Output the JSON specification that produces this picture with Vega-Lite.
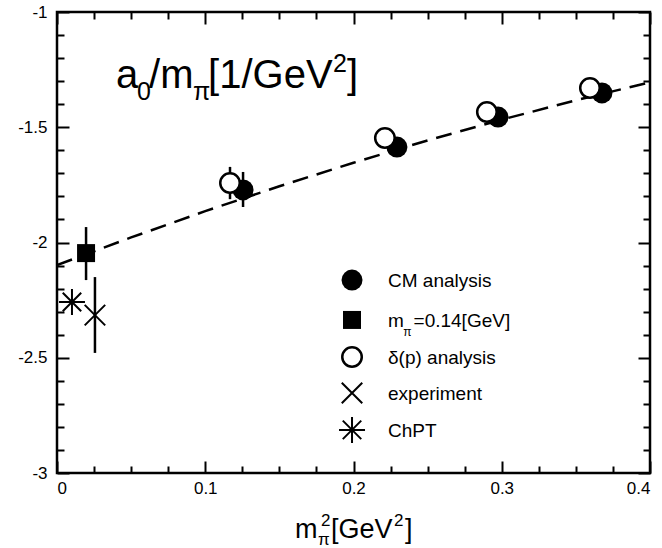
{
  "$schema": "https://vega.github.io/schema/vega-lite/v6.json",
  "width": 593,
  "height": 461,
  "autosize": {"type": "none"},
  "padding": {"left": 57, "top": 12, "right": 12, "bottom": 75},
  "config": {
    "view": {"stroke": "black", "strokeWidth": 2.5},
    "axis": {"domain": false, "grid": false, "tickColor": "black", "tickWidth": 2, "labelFont": "Liberation Sans", "labelFontSize": 17, "labelColor": "black", "title": null},
    "text": {"font": "Liberation Sans", "color": "black"}
  },
  "datasets": {
    "fit": [
      {"x": 0.0, "y": -2.098}, {"x": 0.05, "y": -1.978}, {"x": 0.1, "y": -1.864},
      {"x": 0.15, "y": -1.756}, {"x": 0.2, "y": -1.654}, {"x": 0.25, "y": -1.557},
      {"x": 0.3, "y": -1.467}, {"x": 0.35, "y": -1.383}, {"x": 0.4, "y": -1.305}
    ],
    "pts": [
      {"series": "CM", "x": 0.1255, "y": -1.772, "lo": -1.846, "hi": -1.694},
      {"series": "CM", "x": 0.2293, "y": -1.586},
      {"series": "CM", "x": 0.2975, "y": -1.456},
      {"series": "CM", "x": 0.3676, "y": -1.351},
      {"series": "delta", "x": 0.1167, "y": -1.742, "lo": -1.812, "hi": -1.672},
      {"series": "delta", "x": 0.2212, "y": -1.547},
      {"series": "delta", "x": 0.29, "y": -1.434},
      {"series": "delta", "x": 0.3595, "y": -1.33},
      {"series": "mpi", "x": 0.0196, "y": -2.046, "lo": -2.163, "hi": -1.933},
      {"series": "exp", "x": 0.0256, "y": -2.315, "lo": -2.479, "hi": -2.15},
      {"series": "chpt", "x": 0.0101, "y": -2.258},
      {"series": "CM", "x": 0.199, "y": -2.163},
      {"series": "mpi", "x": 0.199, "y": -2.336},
      {"series": "delta", "x": 0.199, "y": -2.497},
      {"series": "exp", "x": 0.199, "y": -2.653},
      {"series": "chpt", "x": 0.199, "y": -2.813}
    ],
    "texts": [
      {"role": "title", "text": "a", "x": 0.0398, "y": -1.33},
      {"role": "titlesub", "text": "0", "x": 0.054, "y": -1.382},
      {"role": "title", "text": "/m", "x": 0.0621, "y": -1.33},
      {"role": "titlesub", "text": "π", "x": 0.0917, "y": -1.382},
      {"role": "title", "text": "[1/GeV", "x": 0.1019, "y": -1.33},
      {"role": "titlesub", "text": "2", "x": 0.1862, "y": -1.26},
      {"role": "title", "text": "]", "x": 0.1956, "y": -1.33},
      {"role": "leg", "text": "CM analysis", "x": 0.2233, "y": -2.193},
      {"role": "leg", "text": "m", "x": 0.2233, "y": -2.367},
      {"role": "legsub", "text": "π", "x": 0.2335, "y": -2.406},
      {"role": "leg", "text": "=0.14[GeV]", "x": 0.2405, "y": -2.367},
      {"role": "leg", "text": "δ(p) analysis", "x": 0.2233, "y": -2.527},
      {"role": "leg", "text": "experiment", "x": 0.2233, "y": -2.683},
      {"role": "leg", "text": "ChPT", "x": 0.2233, "y": -2.844},
      {"role": "xt", "text": "m", "x": 0.1606, "y": -3.282},
      {"role": "xtsub", "text": "π", "x": 0.176, "y": -3.314},
      {"role": "xtsub", "text": "2", "x": 0.1781, "y": -3.228},
      {"role": "xt", "text": "[GeV", "x": 0.1848, "y": -3.282},
      {"role": "xtsub", "text": "2", "x": 0.2273, "y": -3.228},
      {"role": "xt", "text": "]", "x": 0.2347, "y": -3.282}
    ]
  },
  "resolve": {"axis": {"x": "independent", "y": "independent"}},
  "layer": [
    {
      "data": {"name": "fit"},
      "mark": {"type": "line", "color": "black", "strokeWidth": 2.5, "strokeDash": [16, 9], "clip": true},
      "encoding": {
        "x": {"field": "x", "type": "quantitative", "scale": {"domain": [0, 0.4], "nice": false, "zero": false},
              "axis": {"orient": "bottom", "values": [0, 0.1, 0.2, 0.3, 0.4], "tickSize": -12, "labelPadding": 19, "labelExpr": "'' + datum.value"}},
        "y": {"field": "y", "type": "quantitative", "scale": {"domain": [-3, -1], "nice": false, "zero": false},
              "axis": {"orient": "left", "values": [-3, -2.5, -2, -1.5, -1], "tickSize": -12, "labelPadding": 22, "labelExpr": "'' + datum.value"}}
      }
    },
    {
      "data": {"name": "pts"},
      "transform": [{"filter": "isValid(datum.lo)"}],
      "mark": {"type": "rule", "color": "black", "strokeWidth": 2.5},
      "encoding": {
        "x": {"field": "x", "type": "quantitative", "scale": {"domain": [0, 0.4], "nice": false, "zero": false},
              "axis": {"orient": "top", "values": [0, 0.1, 0.2, 0.3, 0.4], "tickSize": -12, "labels": false}},
        "y": {"field": "lo", "type": "quantitative", "scale": {"domain": [-3, -1], "nice": false, "zero": false},
              "axis": {"orient": "right", "values": [-3, -2.5, -2, -1.5, -1], "tickSize": -12, "labels": false}},
        "y2": {"field": "hi"}
      }
    },
    {
      "data": {"name": "pts"},
      "transform": [{"filter": "datum.series == 'CM'"}],
      "mark": {"type": "point", "shape": "circle", "filled": true, "color": "black", "opacity": 1, "size": 440},
      "encoding": {
        "x": {"field": "x", "type": "quantitative", "scale": {"domain": [0, 0.4], "nice": false, "zero": false},
              "axis": {"orient": "bottom", "values": [0.025, 0.05, 0.075, 0.125, 0.15, 0.175, 0.225, 0.25, 0.275, 0.325, 0.35, 0.375], "tickSize": -7, "labels": false}},
        "y": {"field": "y", "type": "quantitative", "scale": {"domain": [-3, -1], "nice": false, "zero": false},
              "axis": {"orient": "left", "values": [-2.9, -2.8, -2.7, -2.6, -2.4, -2.3, -2.2, -2.1, -1.9, -1.8, -1.7, -1.6, -1.4, -1.3, -1.2, -1.1], "tickSize": -7, "labels": false}}
      }
    },
    {
      "data": {"name": "pts"},
      "transform": [{"filter": "datum.series == 'delta'"}],
      "mark": {"type": "point", "shape": "circle", "fill": "white", "stroke": "black", "strokeWidth": 2.5, "opacity": 1, "fillOpacity": 1, "size": 380},
      "encoding": {
        "x": {"field": "x", "type": "quantitative", "scale": {"domain": [0, 0.4], "nice": false, "zero": false},
              "axis": {"orient": "top", "values": [0.025, 0.05, 0.075, 0.125, 0.15, 0.175, 0.225, 0.25, 0.275, 0.325, 0.35, 0.375], "tickSize": -7, "labels": false}},
        "y": {"field": "y", "type": "quantitative", "scale": {"domain": [-3, -1], "nice": false, "zero": false},
              "axis": {"orient": "right", "values": [-2.9, -2.8, -2.7, -2.6, -2.4, -2.3, -2.2, -2.1, -1.9, -1.8, -1.7, -1.6, -1.4, -1.3, -1.2, -1.1], "tickSize": -7, "labels": false}}
      }
    },
    {
      "data": {"name": "pts"},
      "transform": [{"filter": "datum.series == 'mpi'"}],
      "mark": {"type": "point", "shape": "square", "filled": true, "color": "black", "opacity": 1, "size": 324},
      "encoding": {
        "x": {"field": "x", "type": "quantitative", "scale": {"domain": [0, 0.4], "nice": false, "zero": false}, "axis": null},
        "y": {"field": "y", "type": "quantitative", "scale": {"domain": [-3, -1], "nice": false, "zero": false}, "axis": null}
      }
    },
    {
      "data": {"name": "pts"},
      "transform": [{"filter": "datum.series == 'exp'"}],
      "mark": {"type": "point", "shape": "M-1,-1L1,1M1,-1L-1,1", "filled": false, "stroke": "black", "strokeWidth": 2, "opacity": 1, "size": 420},
      "encoding": {
        "x": {"field": "x", "type": "quantitative", "scale": {"domain": [0, 0.4], "nice": false, "zero": false}, "axis": null},
        "y": {"field": "y", "type": "quantitative", "scale": {"domain": [-3, -1], "nice": false, "zero": false}, "axis": null}
      }
    },
    {
      "data": {"name": "pts"},
      "transform": [{"filter": "datum.series == 'chpt'"}],
      "mark": {"type": "point", "shape": "M-1,0L1,0M0,-1L0,1M-0.71,-0.71L0.71,0.71M-0.71,0.71L0.71,-0.71", "filled": false, "stroke": "black", "strokeWidth": 2, "opacity": 1, "size": 676},
      "encoding": {
        "x": {"field": "x", "type": "quantitative", "scale": {"domain": [0, 0.4], "nice": false, "zero": false}, "axis": null},
        "y": {"field": "y", "type": "quantitative", "scale": {"domain": [-3, -1], "nice": false, "zero": false}, "axis": null}
      }
    },
    {
      "data": {"name": "texts"},
      "transform": [{"filter": "datum.role == 'title'"}],
      "mark": {"type": "text", "align": "left", "baseline": "alphabetic", "fontSize": 40},
      "encoding": {
        "x": {"field": "x", "type": "quantitative", "scale": {"domain": [0, 0.4], "nice": false, "zero": false}, "axis": null},
        "y": {"field": "y", "type": "quantitative", "scale": {"domain": [-3, -1], "nice": false, "zero": false}, "axis": null},
        "text": {"field": "text"}
      }
    },
    {
      "data": {"name": "texts"},
      "transform": [{"filter": "datum.role == 'titlesub'"}],
      "mark": {"type": "text", "align": "left", "baseline": "alphabetic", "fontSize": 25},
      "encoding": {
        "x": {"field": "x", "type": "quantitative", "scale": {"domain": [0, 0.4], "nice": false, "zero": false}, "axis": null},
        "y": {"field": "y", "type": "quantitative", "scale": {"domain": [-3, -1], "nice": false, "zero": false}, "axis": null},
        "text": {"field": "text"}
      }
    },
    {
      "data": {"name": "texts"},
      "transform": [{"filter": "datum.role == 'leg'"}],
      "mark": {"type": "text", "align": "left", "baseline": "alphabetic", "fontSize": 19},
      "encoding": {
        "x": {"field": "x", "type": "quantitative", "scale": {"domain": [0, 0.4], "nice": false, "zero": false}, "axis": null},
        "y": {"field": "y", "type": "quantitative", "scale": {"domain": [-3, -1], "nice": false, "zero": false}, "axis": null},
        "text": {"field": "text"}
      }
    },
    {
      "data": {"name": "texts"},
      "transform": [{"filter": "datum.role == 'legsub'"}],
      "mark": {"type": "text", "align": "left", "baseline": "alphabetic", "fontSize": 12},
      "encoding": {
        "x": {"field": "x", "type": "quantitative", "scale": {"domain": [0, 0.4], "nice": false, "zero": false}, "axis": null},
        "y": {"field": "y", "type": "quantitative", "scale": {"domain": [-3, -1], "nice": false, "zero": false}, "axis": null},
        "text": {"field": "text"}
      }
    },
    {
      "data": {"name": "texts"},
      "transform": [{"filter": "datum.role == 'xt'"}],
      "mark": {"type": "text", "align": "left", "baseline": "alphabetic", "fontSize": 27},
      "encoding": {
        "x": {"field": "x", "type": "quantitative", "scale": {"domain": [0, 0.4], "nice": false, "zero": false}, "axis": null},
        "y": {"field": "y", "type": "quantitative", "scale": {"domain": [-3, -1], "nice": false, "zero": false}, "axis": null},
        "text": {"field": "text"}
      }
    },
    {
      "data": {"name": "texts"},
      "transform": [{"filter": "datum.role == 'xtsub'"}],
      "mark": {"type": "text", "align": "left", "baseline": "alphabetic", "fontSize": 17},
      "encoding": {
        "x": {"field": "x", "type": "quantitative", "scale": {"domain": [0, 0.4], "nice": false, "zero": false}, "axis": null},
        "y": {"field": "y", "type": "quantitative", "scale": {"domain": [-3, -1], "nice": false, "zero": false}, "axis": null},
        "text": {"field": "text"}
      }
    }
  ]
}
